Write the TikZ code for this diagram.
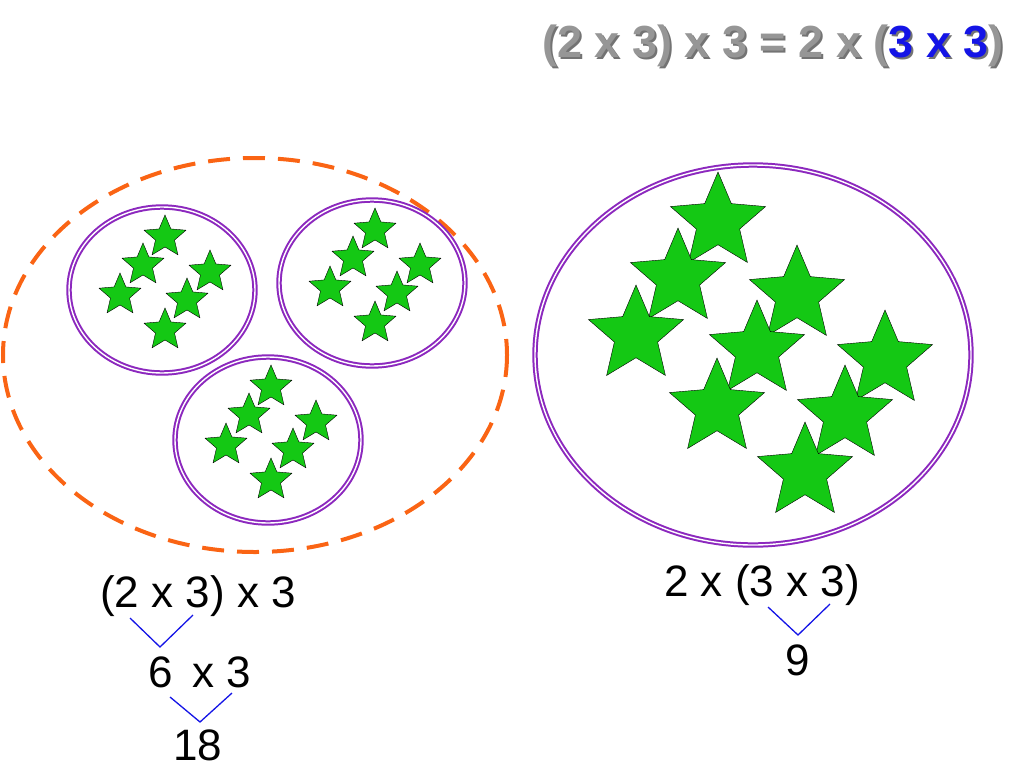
\documentclass[tikz,border=0pt]{standalone}
\usepackage{fontspec}
\setmainfont{Liberation Sans}
\usetikzlibrary{shapes.geometric}
\definecolor{ring}{RGB}{140,40,190}
\definecolor{stargreen}{RGB}{20,200,20}
\definecolor{dashorange}{RGB}{250,100,20}
\definecolor{titlegray}{RGB}{150,150,150}
\definecolor{titleblue}{RGB}{20,20,230}
\tikzset{
    smallstar/.style={star, star points=5, star point ratio=2.2, draw=black, fill=stargreen, minimum size=44pt, inner sep=0pt},
    bigstar/.style={smallstar, minimum size=100pt},
    ring/.style={draw=ring, double=white, double distance=1.4pt, line width=2pt},
    sum/.style={font=\fontsize{44}{44}\selectfont, inner sep=0pt},
    vline/.style={draw=titleblue, line width=1.3pt}
}
\begin{document}
\begin{tikzpicture}[x=1pt,y=-1pt]
\useasboundingbox (0,0) rectangle (1024,768);
% title
\node[font=\bfseries\fontsize{45}{45}\selectfont, text=black!55, inner sep=0pt] at (775,48) {(2 x 3) x 3 = 2 x (3 x 3)};
\node[font=\bfseries\fontsize{45}{45}\selectfont, text=titlegray, inner sep=0pt] (title) at (773,46) {(2 x 3) x 3 = 2 x (\textcolor{titleblue}{3 x 3})};
% left group
\draw[dashorange, line width=4pt, dash pattern=on 22pt off 13pt] (255,355) ellipse (252 and 197);
\foreach \cx/\cy/\n in {162/290/a, 372/283/b, 268/440/c} {
    \draw[ring] (\cx,\cy) ellipse (93 and 83);
    \foreach \dx/\dy in {3/-53, -19/-25, 48/-18, -42/5, 25/10, 3/40}
        \node[smallstar] at (\cx+\dx,\cy+\dy) {};
}
% right group
\draw[ring] (753,355) ellipse (218 and 190);
\foreach \x/\y in {718/222, 678/278, 797/295, 636/335, 757/350, 885/360, 717/408, 845/415, 805/472}
    \node[bigstar] at (\x,\y) {};
% left working
\node[sum] (lexpr) at (198,596) {(2 x 3) x 3};
\node[sum] (lmid) at (200,672) {6\, x 3};
\node[sum] (lres) at (198,745) {18};
\draw[vline] (130,618) -- (160,647) -- (193,615);
\draw[vline] (170,697) -- (200,722) -- (232,693);
% right working
\node[sum] (rexpr) at (762,585) {2 x (3 x 3)};
\node[sum] (rres) at (798,660) {9};
\draw[vline] (768,607) -- (798,635) -- (830,604);
\end{tikzpicture}
\end{document}
